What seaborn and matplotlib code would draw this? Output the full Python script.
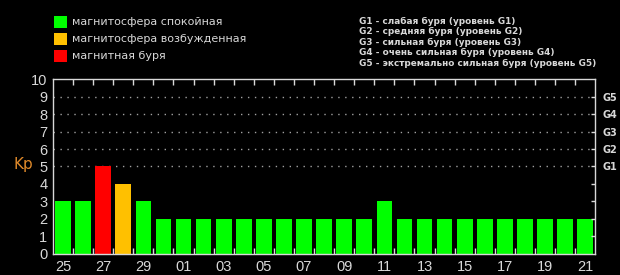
import matplotlib
matplotlib.use("Agg")
import matplotlib.pyplot as plt
import seaborn as sns
import pandas as pd

days = ["25", "26", "27", "28", "29", "30", "01", "02", "03", "04", "05", "06", "07", "08",
        "09", "10", "11", "12", "13", "14", "15", "16", "17", "18", "19", "20", "21"]
kp = [3, 3, 5, 4, 3, 2, 2, 2, 2, 2, 2, 2, 2, 2, 2, 2, 3, 2, 2, 2, 2, 2, 2, 2, 2, 2, 2]
status = ["calm", "calm", "storm", "excited", "calm"] + ["calm"] * 22
legend_labels = ["магнитосфера спокойная", "магнитосфера возбужденная", "магнитная буря"]
g_labels = ["G1", "G2", "G3", "G4", "G5"]
g_text = ["G1 - слабая буря (уровень G1)",
          "G2 - средняя буря (уровень G2)",
          "G3 - сильная буря (уровень G3)",
          "G4 - очень сильная буря (уровень G4)",
          "G5 - экстремально сильная буря (уровень G5)"]

palette = {"calm": "#00ff00", "excited": "#ffc000", "storm": "#ff0000"}
fg = "#d8d8d8"

df = pd.DataFrame({"day": days, "kp": kp, "status": status})

sns.set_style("dark")
plt.rcParams['font.family'] = ['DejaVu Sans']

fig = plt.figure(figsize=(6.2, 2.75), dpi=100, facecolor="black")
ax = fig.add_axes([0.0855, 0.0764, 0.8745, 0.6363])
ax.set_facecolor("black")

sns.barplot(data=df, x="day", y="kp", hue="status", palette=palette, order=days,
            dodge=False, width=0.78, legend=False, ax=ax, saturation=1, linewidth=0)

ax.set_xlim(-0.5, len(days) - 0.5)
ax.set_ylim(0, 10)
ax.set_xlabel("")
ax.set_ylabel("")
ax.grid(False)

for y in range(5, 10):
    ax.axhline(y, color="#a0a0a0", linestyle=(0, (1, 4)), linewidth=1.0, zorder=0)

for s in ax.spines.values():
    s.set_color(fg)
    s.set_linewidth(1.0)
    s.set_visible(True)

tickfont = "Liberation Sans"
ax.set_xticks(range(len(days)))
ax.set_xticklabels([d if i % 2 == 0 else "" for i, d in enumerate(days)],
                   family=tickfont, fontsize=10.5, color=fg)
ax.set_xticks([i + 0.5 for i in range(len(days) - 1)], minor=True)
ax.tick_params(axis="x", which="major", length=0, pad=4)
ax.tick_params(axis="x", which="minor", length=4, direction="in", color=fg,
               top=True, bottom=True, width=1)
ax.set_yticks(range(0, 11))
ax.set_yticklabels([str(v) for v in range(0, 11)], family=tickfont, fontsize=10.5, color=fg)
ax.tick_params(axis="y", length=0, pad=4)

ax2 = ax.twinx()
ax2.set_ylim(0, 10)
ax2.set_yticks(range(1, 10))
ax2.set_yticklabels(["", "", "", ""] + g_labels, fontsize=7, fontweight="bold", color=fg)
ax2.tick_params(axis="y", length=3, direction="in", color=fg, pad=5, width=1)
for s in ax2.spines.values():
    s.set_visible(False)
ax2.grid(False)

fig.text(23 / 620, 1 - 165 / 275, "Kp", color="#e08a2a", fontsize=11, ha="center", va="center")

leg_colors = [palette["calm"], palette["excited"], palette["storm"]]
leg_y = [22, 39, 56]
for c, lab, y in zip(leg_colors, legend_labels, leg_y):
    fig.patches.append(plt.Rectangle((54 / 620, 1 - (y + 6) / 275), 13 / 620, 12 / 275,
                                     transform=fig.transFigure, facecolor=c, edgecolor="none"))
    fig.text(72 / 620, 1 - y / 275, lab, color=fg, fontsize=8, va="center", ha="left")

for i, t in enumerate(g_text):
    fig.text(359 / 620, 1 - (21 + i * 10.5) / 275, t, color=fg, fontsize=6.4,
             fontweight="bold", va="center", ha="left")

fig.savefig("out.png", dpi=100, facecolor="black")
